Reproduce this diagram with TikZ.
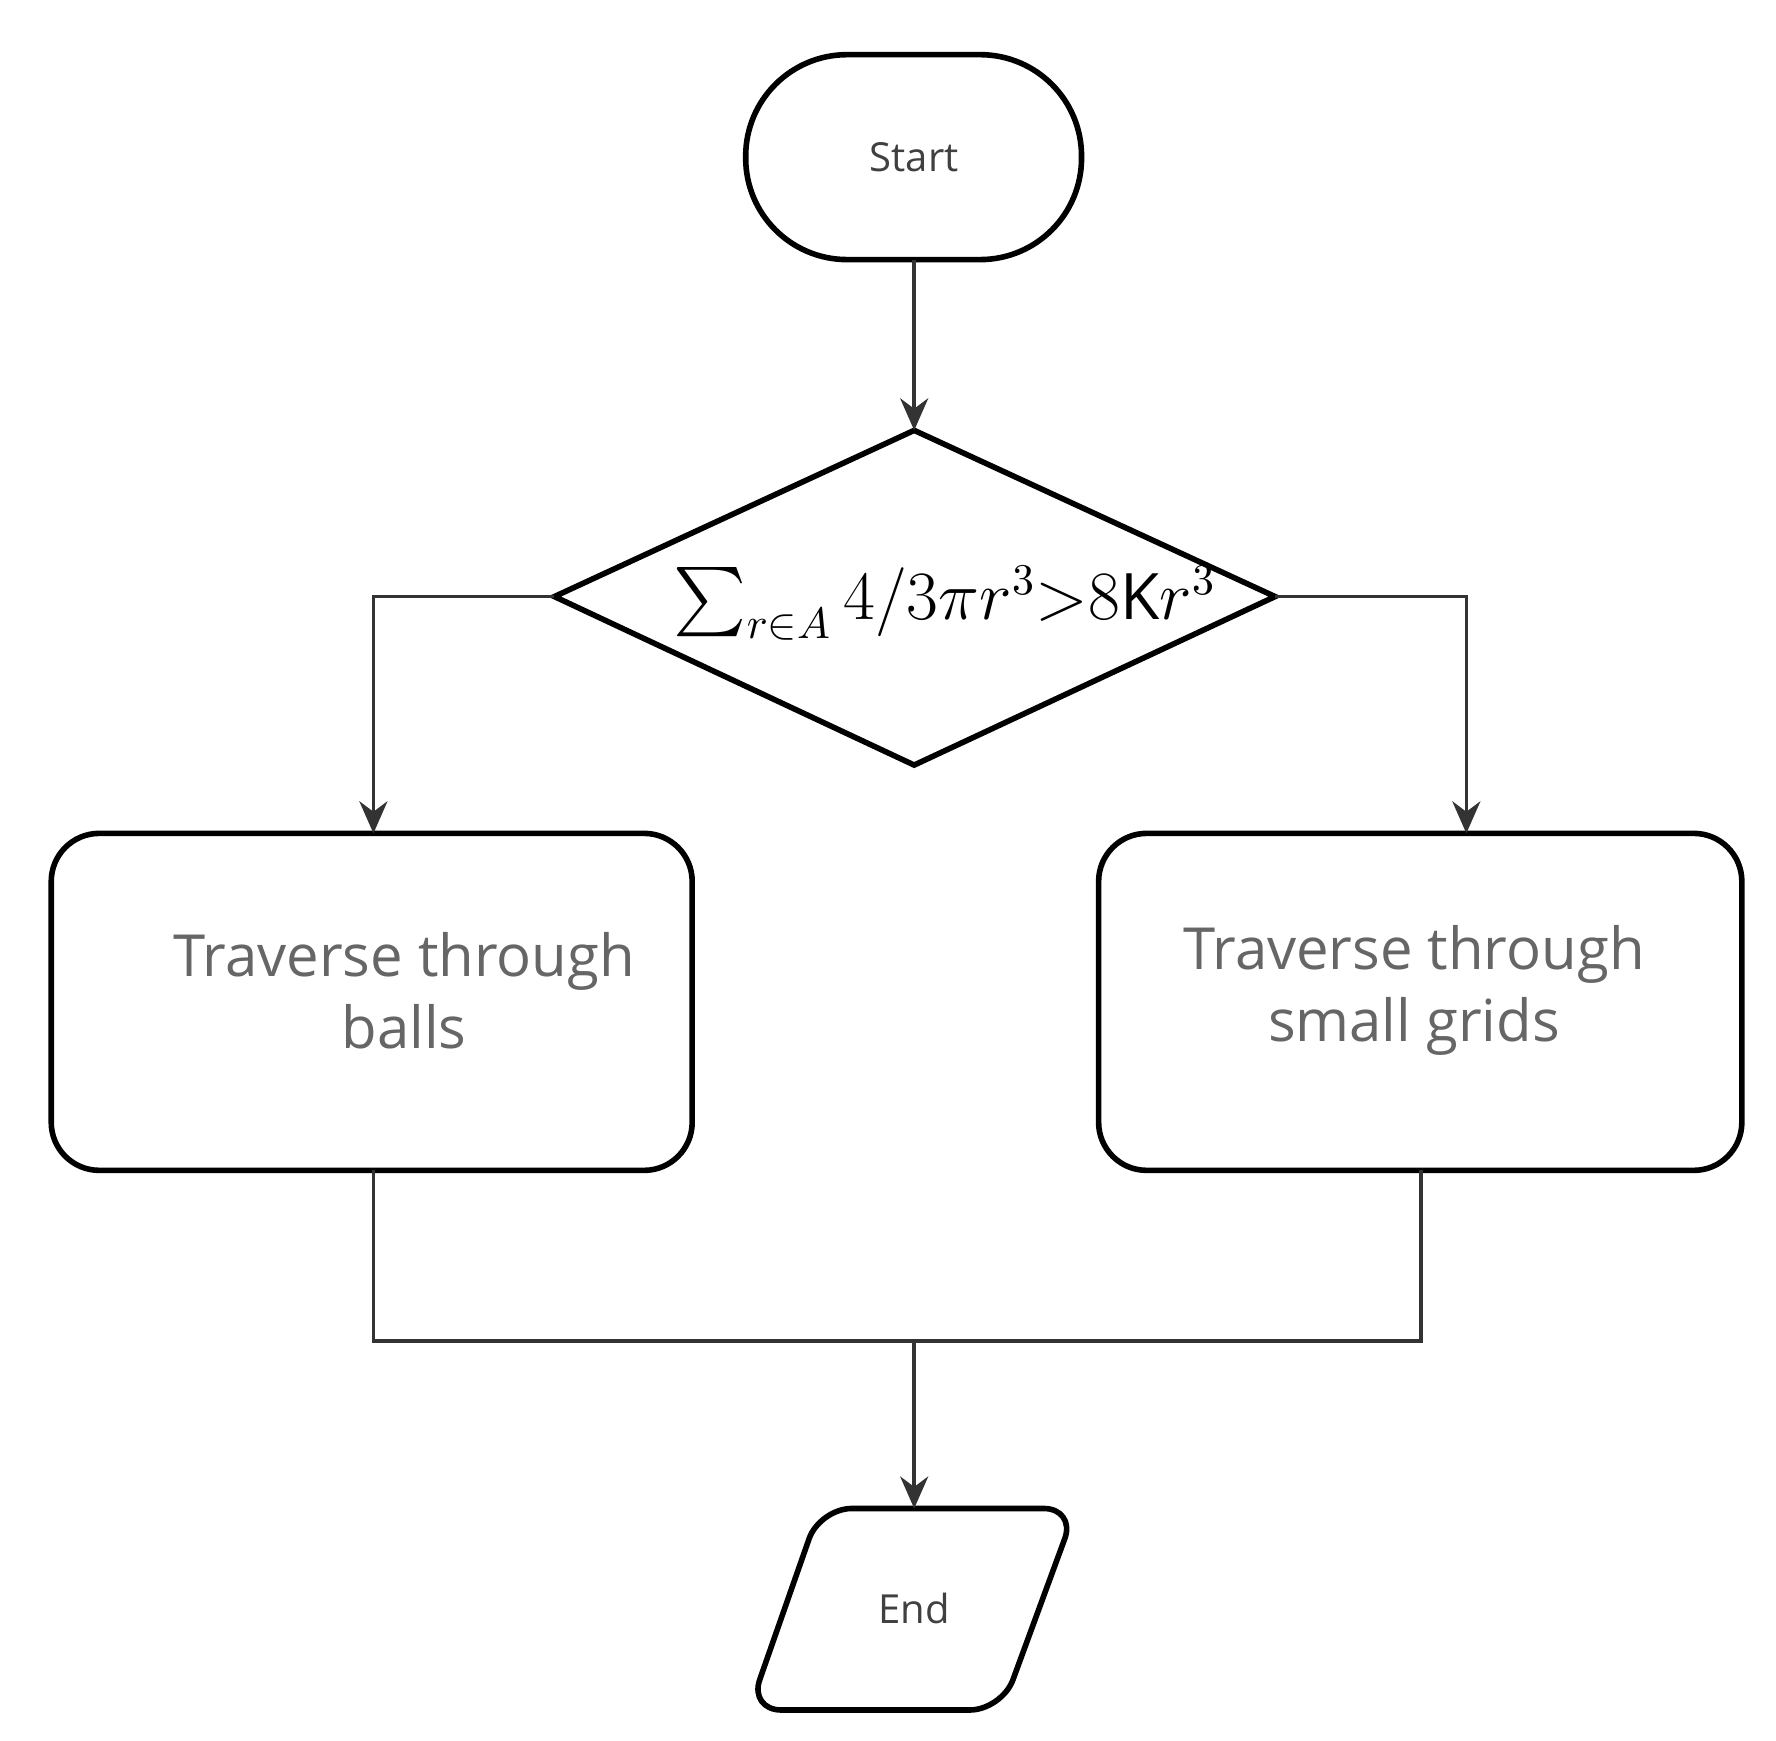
\documentclass[tikz,border=0pt]{standalone}
\usepackage{fontspec}
\setmainfont{Open Sans}
\usepackage{amsmath}
\usetikzlibrary{shapes.geometric,arrows.meta}
\begin{document}
\begin{tikzpicture}[x=0.01cm,y=-0.01cm,
  box/.style={draw,line width=1.4pt,rounded corners=12pt},
  line/.style={draw,line width=0.9pt,color=black!80},
  arr/.style={line,-{Stealth[length=8pt,width=7pt]}},
  big/.style={font=\fontsize{14.5}{18}\selectfont,text=black!60,align=center}]
\useasboundingbox (0,0) rectangle (1560,1529);
\draw[line width=1.4pt,rounded corners=0.89cm] (655,48) rectangle (950,228);
\node (start) at (803,138) {\fontsize{10}{12}\selectfont\color{black!75}Start};
\coordinate (st) at (803,228);
\draw[line width=1.4pt] (803,378) coordinate (dt) -- (1120,524) coordinate (dr) -- (803,672) -- (487,524) coordinate (dl) -- cycle;
\node (cond) at (830,530) {\fontsize{16}{20}\selectfont $\sum_{r\in A} 4/3\pi r^3{>}8\mathrm{K}r^3$};
\draw[box] (45,732) rectangle (608,1028);
\draw[box] (965,732) rectangle (1530,1028);
\node[big] (l) at (355,870) {Traverse through\\balls};
\node[big] (r) at (1242,870) {Traverse through\\small grids};
\coordinate (lt) at (328,732);
\coordinate (rt) at (1288,732);
\coordinate (lb) at (328,1028);
\coordinate (rb) at (1248,1028);
\coordinate (m) at (803,1178);
\draw[line width=1.4pt,rounded corners=8pt] (720,1325) coordinate (ea) -- (945,1325) -- (880,1502) -- (658,1502) -- cycle;
\coordinate (et) at (803,1325);
\node (end) at (803,1413) {\fontsize{10}{12}\selectfont\color{black!75}End};
\draw[arr] (st) -- (dt);
\draw[arr] (dl) -| (lt);
\draw[arr] (dr) -| (rt);
\draw[line] (lb) |- (m) -| (rb);
\draw[arr] (m) -- (et);
\end{tikzpicture}
\end{document}
